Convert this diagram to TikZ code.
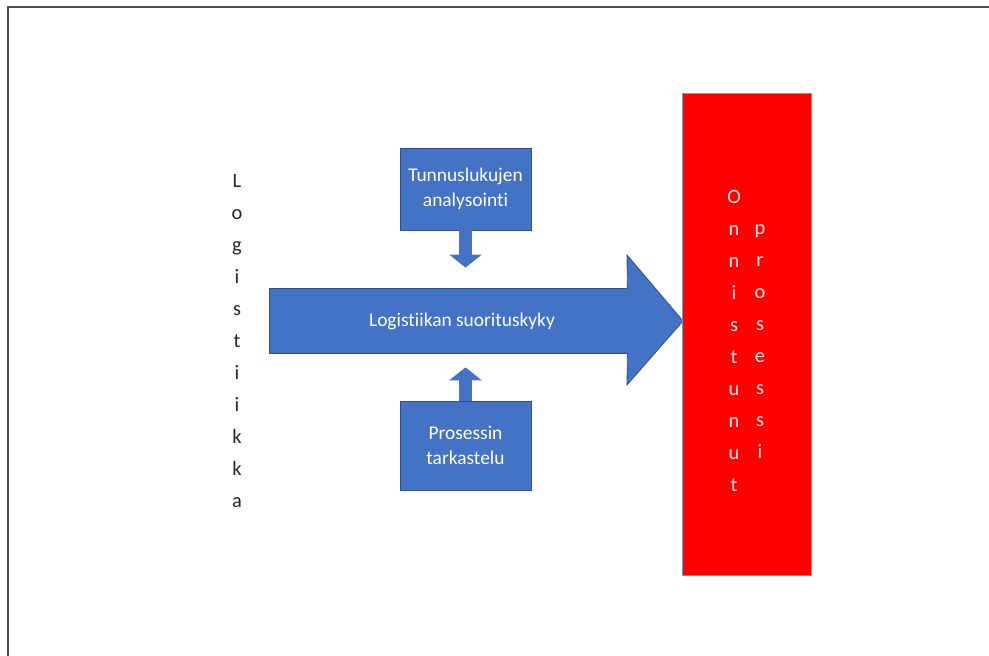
\documentclass[tikz,border=0pt]{standalone}
\usepackage{fontspec}
\setmainfont{Carlito}[Ligatures=NoCommon]
\usetikzlibrary{arrows.meta}
\usetikzlibrary{positioning}
\definecolor{boxblue}{HTML}{4472C4}
\definecolor{edgeblue}{HTML}{2F528F}

\begin{document}
\begin{tikzpicture}[x=0.5pt,y=-0.5pt,
  box/.style={rectangle,fill=boxblue,draw=edgeblue,thin,text=white,align=center,font=\fontsize{9.7}{12.5}\selectfont},
  letters/.style={align=center,font=\fontsize{10.2}{16}\selectfont,inner sep=0pt},
  blockarrow/.style={draw=boxblue,line width=6.5pt,-{Triangle[width=16pt,length=6.5pt]}}]
\useasboundingbox (0,0) rectangle (989,656);
\draw[gray!60!black,line width=1.2pt] (8,656) -- (8,7) -- (989,7);

% main arrow
\node[inner sep=0pt,minimum width=178.5pt,minimum height=32pt] (runko) at (448.5,321) {};
\filldraw[fill=boxblue,draw=edgeblue,thin] (runko.north west) -- (runko.north east) -- (627,255) -- (683,321) -- (627,385) -- (runko.south east) -- (runko.south west) -- cycle;
\node[font=\fontsize{9.7}{12}\selectfont,text=white] (suoritus) at (462,321) {Logistiikan suorituskyky};

% boxes above and below
\node[box,minimum width=65.5pt,minimum height=41pt] (tunnus) at (465.5,189) {Tunnuslukujen\\analysointi};
\node[box,minimum width=65.5pt,minimum height=44.5pt] (prosessi) at (465.5,445.5) {Prosessin\\tarkastelu};
\draw[blockarrow,shorten >=10.5pt] (tunnus.south) -- (tunnus.south |- runko.north);
\draw[blockarrow,shorten >=7pt] (prosessi.north) -- (prosessi.north |- runko.south);

% red box
\node[fill=red,draw=edgeblue!60,thin,minimum width=64.5pt,minimum height=241pt] (onnistunut) at (746.5,334) {};
\node[letters,text=red!12!white] (onn) at (734,340.5) {O\\n\\n\\i\\s\\t\\u\\n\\u\\t};
\node[letters,text=red!12!white] (pros) at (760,342) {p\\r\\o\\s\\e\\s\\s\\i};

% left text
\node[letters,text=black!85] (logistiikka) at (237,341) {L\\o\\g\\i\\s\\t\\i\\i\\k\\k\\a};
\end{tikzpicture}
\end{document}
